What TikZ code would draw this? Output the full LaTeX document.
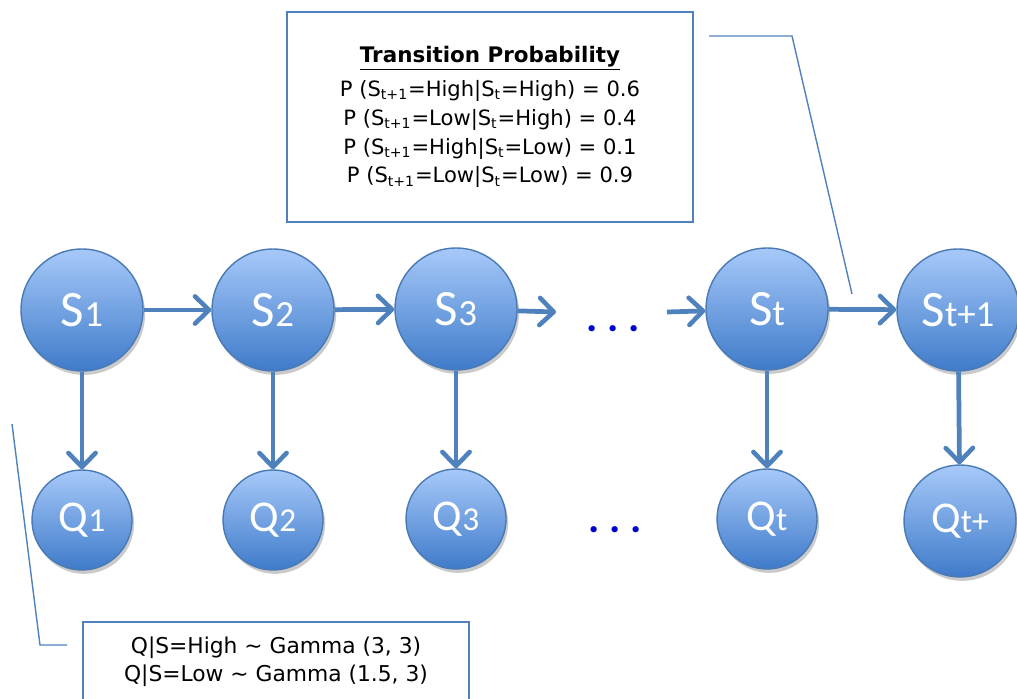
\documentclass[tikz,border=0pt]{standalone}
\usepackage{fontspec}
\setmainfont{DejaVu Sans}
\newfontfamily\nodefont{Carlito}
\usepackage{tikz}
\usetikzlibrary{arrows.meta,shadows,positioning}

\definecolor{arrblue}{HTML}{4F81BD}
\definecolor{edgeblue}{HTML}{4A7AB5}
\definecolor{toplight}{HTML}{A7C9F9}
\definecolor{botdark}{HTML}{3F7BCA}
\definecolor{dotblue}{HTML}{0000D0}

% label in a state node: big letter, smaller index on the same baseline
\newcommand{\slbl}[2]{{\fontsize{29}{30}\selectfont #1}{\fontsize{21}{22}\selectfont #2}}
\newcommand{\qlbl}[2]{{\fontsize{25}{26}\selectfont #1}{\fontsize{19}{20}\selectfont #2}}

\begin{document}
\begin{tikzpicture}[
    x=0.02cm, y=-0.02cm,
    ball/.style={circle, draw=edgeblue, line width=0.8pt,
                 top color=toplight, bottom color=botdark,
                 text=white, font=\nodefont, inner sep=0pt,
                 drop shadow={shadow xshift=1.2pt, shadow yshift=-2.2pt,
                              opacity=0.35, fill=black!60}},
    snode/.style={ball, minimum size=2.44cm},
    qnode/.style={ball, minimum size=2.0cm},
    arr/.style={-{Straight Barb[length=8pt, width=15.5pt, line width=2.6pt, round]},
                line width=2.7pt, draw=arrblue},
    note/.style={rectangle, draw=arrblue, line width=0.8pt, fill=white,
                 align=center, text=black},
    leader/.style={draw=arrblue, line width=0.8pt},
    dots/.style={text=dotblue, font=\nodefont\bfseries\fontsize{24}{24}\selectfont,
                 anchor=base, inner sep=0pt},
  ]
  \useasboundingbox (0,0) rectangle (1017,699);

  % state chain
  \node[snode] (s1) at (82,310) {\slbl{S}{1}};
  \node[snode] (s2) at (273,310) {\slbl{S}{2}};
  \node[snode] (s3) at (456,309) {\slbl{S}{3}};
  \node[snode] (st) at (767,309) {\slbl{S}{t}};
  \node[snode] (st1) at (958,310) {\slbl{S}{t+1}};

  % observations
  \node[qnode] (q1) at (82,520) {\qlbl{Q}{1}};
  \node[qnode] (q2) at (273,520) {\qlbl{Q}{2}};
  \node[qnode] (q3) at (456,519) {\qlbl{Q}{3}};
  \node[qnode] (qt) at (767,519) {\qlbl{Q}{t}};
  \node[ball, minimum size=2.24cm] (qt1) at (960,521) {\qlbl{Q}{t+}};

  \node[dots] (dtop) at (613,331) {.\hspace{5.6pt}.\hspace{5.6pt}.};
  \node[dots] (dbot) at (615,532) {.\hspace{5.6pt}.\hspace{5.6pt}.};

  \coordinate (gapin) at (556,312);
  \coordinate (gapout) at (667,312);

  \draw[arr] (s1) -- (s2);
  \draw[arr] (s2) -- (s3);
  \draw[arr] (s3) -- (gapin);
  \draw[arr] (gapout) -- (st);
  \draw[arr] (st) -- (st1);

  \draw[arr] (s1) -- (q1);
  \draw[arr] (s2) -- (q2);
  \draw[arr] (s3) -- (q3);
  \draw[arr] (st) -- (qt);
  \draw[arr] (st1) -- (qt1);

  % transition note
  \node[note, minimum width=8.12cm, minimum height=4.2cm,
        font=\fontsize{12}{16.4}\selectfont] (trans) at (490,117)
    {{\fontsize{12.2}{14}\selectfont\bfseries\underline{Transition Probability}}\\[3pt]
     P (S\textsubscript{t+1}=High|S\textsubscript{t}=High) = 0.6\\
     P (S\textsubscript{t+1}=Low|S\textsubscript{t}=High) = 0.4\\
     P (S\textsubscript{t+1}=High|S\textsubscript{t}=Low) = 0.1\\
     P (S\textsubscript{t+1}=Low|S\textsubscript{t}=Low) = 0.9};

  % emission note
  \node[note, minimum width=7.72cm, minimum height=1.6cm,
        font=\fontsize{12.4}{15.9}\selectfont] (emit) at (276,662)
    {Q|S=High \textasciitilde{} Gamma (3, 3)\\
     Q|S=Low \textasciitilde{} Gamma (1.5, 3)};

  \coordinate (ta) at (709,36);
  \coordinate (tb) at (792,36);
  \coordinate (tc) at (852,294);
  \draw[leader] (ta) -- (tb) -- (tc);

  \coordinate (ea) at (12,424);
  \coordinate (eb) at (40,645);
  \coordinate (ec) at (67,645);
  \draw[leader] (ea) -- (eb) -- (ec);
\end{tikzpicture}
\end{document}
